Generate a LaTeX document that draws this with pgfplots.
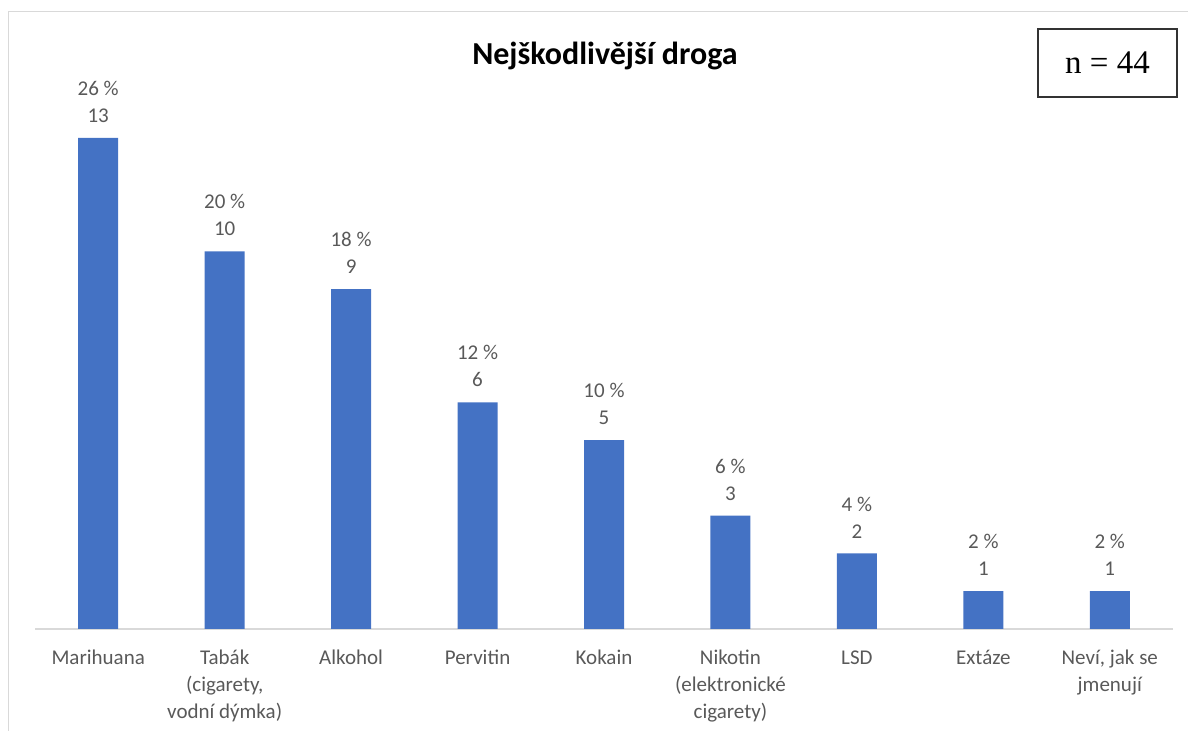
\documentclass[border=0pt]{standalone}
\usepackage{pgfplots}
\pgfplotsset{compat=1.18}
\usepackage{pgfplotstable}
\usepackage{fontspec}
\setmainfont{Carlito}
\newfontfamily\serifn{Liberation Serif}
\definecolor{barblue}{HTML}{4472C4}
\definecolor{labgray}{HTML}{595959}
\definecolor{linegray}{HTML}{D9D9D9}
\pgfplotstableread[col sep=comma]{
x,y,p
0,13,26
1,10,20
2,9,18
3,6,12
4,5,10
5,3,6
6,2,4
7,1,2
8,1,2
}\drugdata
\begin{document}
\begin{tikzpicture}[x=1pt,y=1pt]
\useasboundingbox (0,0) rectangle (594,365.5);
\draw[linegray, line width=0.75pt] (4.25,0) -- (4.25,359.75) -- (600,359.75);
\begin{axis}[
  at={(17.5pt,51pt)}, anchor=south west,
  scale only axis, width=569pt, height=245.5pt,
  xmin=-0.5, xmax=8.5, ymin=0, ymax=13,
  clip=false,
  axis x line*=bottom, axis y line=none,
  x axis line style={draw=linegray, line width=0.75pt, -},
  major tick length=0pt,
  xtick={0,...,8},
  xticklabels={Marihuana,{Tabák\\(cigarety,\\vodní dýmka)},Alkohol,Pervitin,Kokain,{Nikotin\\(elektronické\\cigarety)},LSD,Extáze,{Neví, jak se\\jmenují}},
  xticklabel style={align=center, font=\fontsize{10.5}{13.5}\selectfont, text=labgray, anchor=north, inner sep=0pt, yshift=-10.5pt},
  ybar, bar width=20pt,
  /pgf/number format/assume math mode=true,
  point meta=y,
  visualization depends on={\thisrow{p}\as\pval},
  nodes near coords={\pgfmathprintnumber{\pval}~\%\\\pgfmathprintnumber{\pgfplotspointmeta}},
  every node near coord/.append style={align=center, font=\fontsize{10.5}{13.5}\selectfont, text=labgray, anchor=south, inner sep=0pt, yshift=7.5pt},
]
\addplot[fill=barblue, draw=none] table[x=x, y=y] {\drugdata};
\end{axis}
\node[font=\fontsize{16}{19}\selectfont\bfseries] at (302.5,337.5) {Nejškodlivější droga};
\node[draw=black!80, line width=0.6pt, minimum width=69.5pt, minimum height=34pt, inner sep=0pt, font=\serifn\fontsize{16.5}{19}\selectfont] at (553.75,334) {n = 44};
\end{tikzpicture}
\end{document}
